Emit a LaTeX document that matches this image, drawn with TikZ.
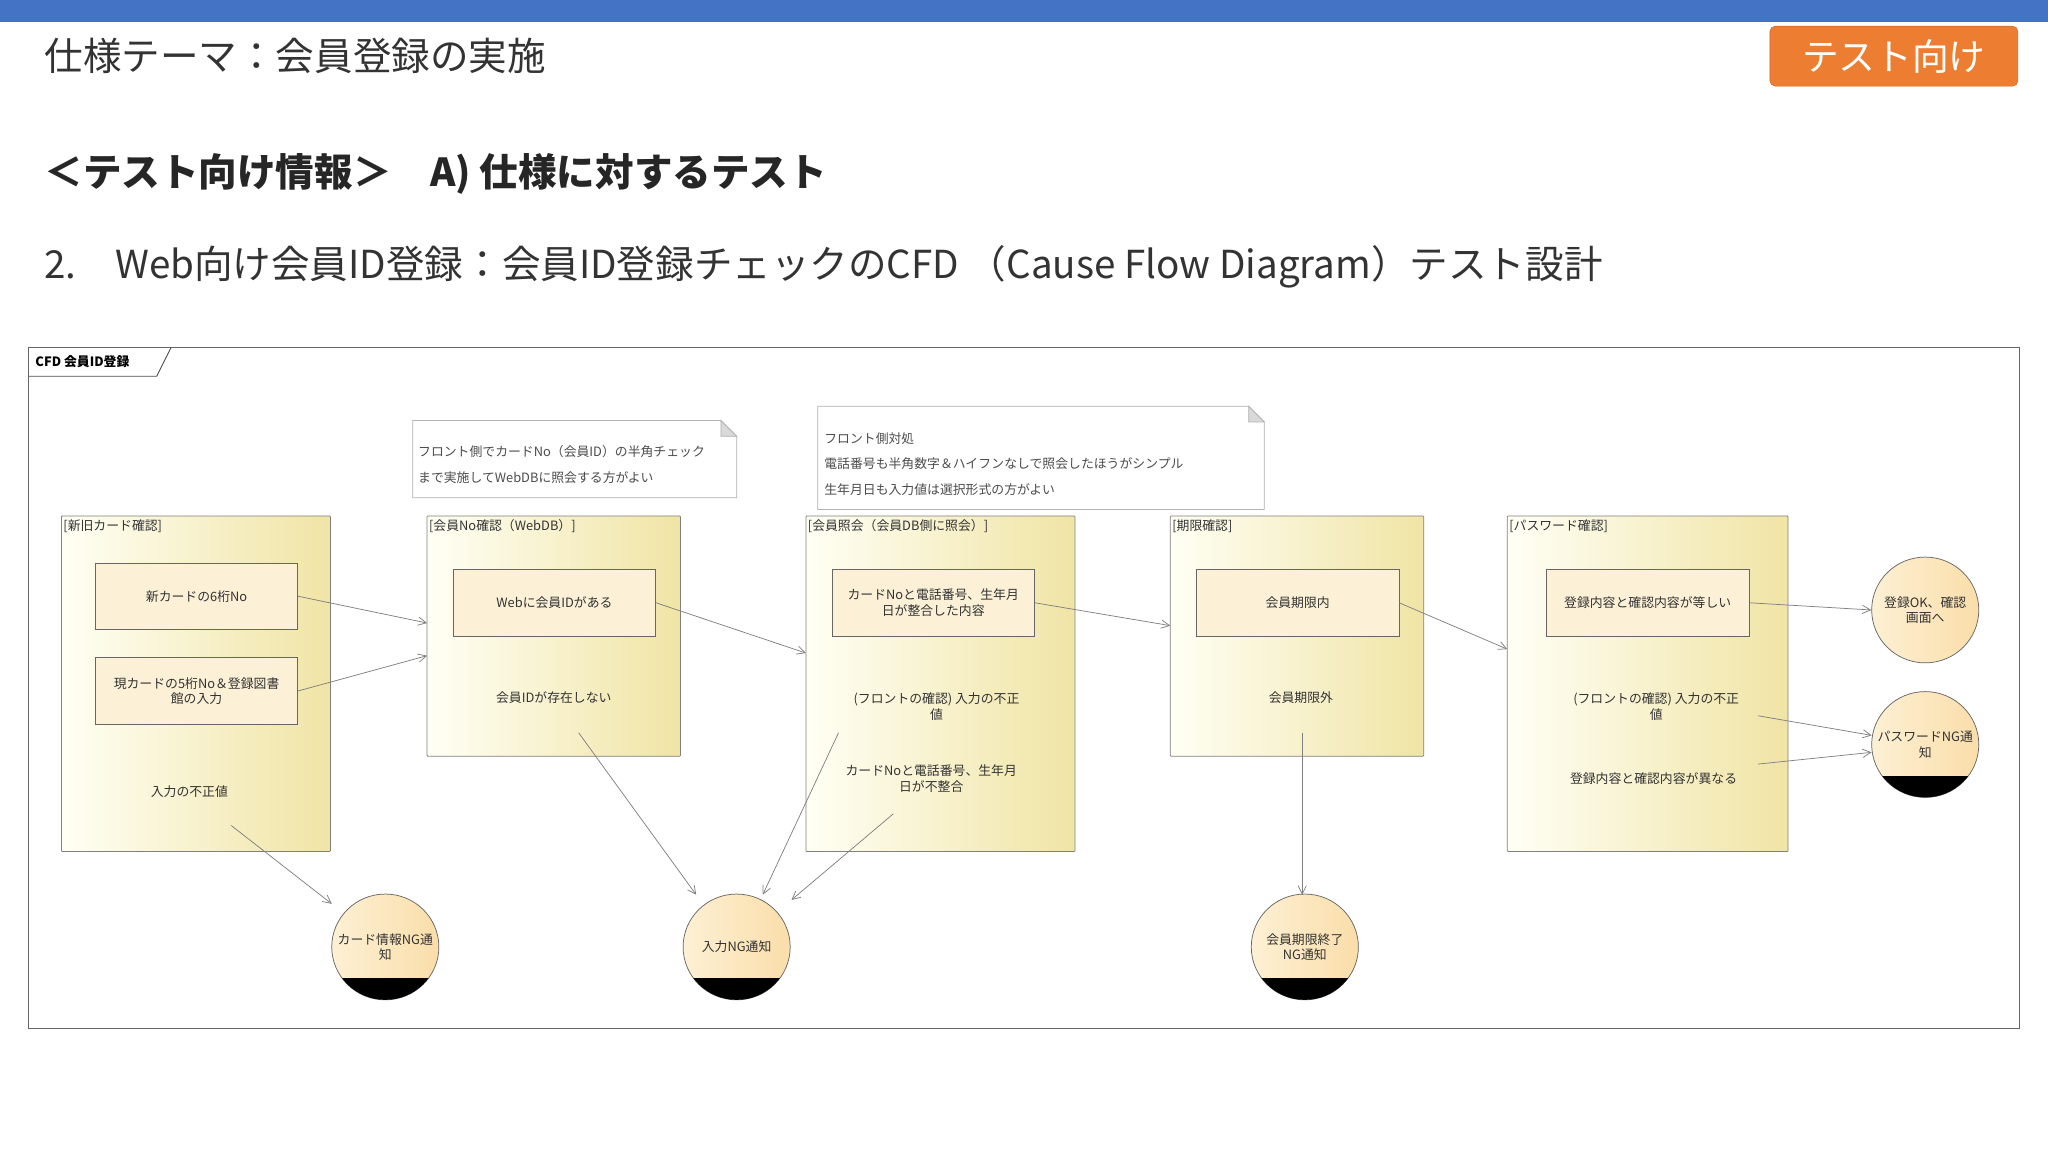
\documentclass[tikz,border=0pt]{standalone}
\usepackage{fontspec}
\setmainfont{Noto Sans CJK JP}
\usetikzlibrary{arrows.meta,shapes.geometric}
\definecolor{topblue}{HTML}{4472C4}
\definecolor{btnorange}{HTML}{ED7D31}
\definecolor{lnc}{HTML}{808080}
\tikzset{
  grp/.style={draw=lnc, line width=0.8pt, left color=yellow!4!white, right color={rgb,255:red,240;green,228;blue,165}, rounded corners=1pt},
  inbox/.style={draw=black!60, line width=0.8pt, fill={rgb,255:red,252;green,240;blue,215}, minimum width=155*0.05cm, minimum height=51*0.05cm, align=center, font=\fontsize{14}{17}\selectfont, text=black!80},
  ptxt/.style={align=center, font=\fontsize{14}{17}\selectfont, text=black!80},
  glbl/.style={anchor=north west, font=\fontsize{14}{17}\selectfont, text=black!80, inner sep=2pt},
  term/.style={ellipse, draw=black!60, line width=0.8pt, left color={rgb,255:red,253;green,240;blue,212}, right color={rgb,255:red,250;green,222;blue,170}, minimum width=82*0.05cm, minimum height=81*0.05cm, inner sep=0pt},
  tlbl/.style={align=center, font=\fontsize{14}{17}\selectfont, text=black!80, inner sep=0pt},
  arr/.style={-{Straight Barb[length=9pt,width=9pt]}, draw=lnc, line width=0.8pt},
  notebox/.style={draw=black!30, fill=white, line width=0.8pt},
  ntxt/.style={anchor=west, font=\fontsize{14}{17}\selectfont, text=black!70, inner sep=0pt}
}
\begin{document}
\begin{tikzpicture}[x=0.05cm,y=-0.05cm]
\useasboundingbox (0,0) rectangle (1568,882);
\fill[white] (0,0) rectangle (1568,882);
% top
\fill[topblue] (0,0) rectangle (1568,17);
\node[anchor=west, font=\fontsize{42}{46}\selectfont, text=black!80, inner sep=0pt] (title) at (34,43) {仕様テーマ：会員登録の実施};
\node[draw=btnorange!80!black, fill=btnorange, rounded corners=6pt, minimum width=190*0.05cm, minimum height=46*0.05cm, text=white, font=\fontsize{40}{44}\selectfont, inner sep=0pt] (btn) at (1450,43) {テスト向け};
\node[anchor=west, font=\bfseries\fontsize{42}{46}\selectfont, text=black!85, inner sep=0pt] (h1) at (34,133) {＜テスト向け情報＞　A) 仕様に対するテスト};
\node[anchor=west, font=\fontsize{42}{46}\selectfont, text=black!80, inner sep=0pt] (h2) at (34,204) {2.　Web向け会員ID登録：会員ID登録チェックのCFD （Cause Flow Diagram）テスト設計};
% frame
\draw[black!60, line width=0.9pt] (22,266) rectangle (1546,787);
\draw[black!70, line width=0.9pt] (22,288) -- (120,288) -- (131,266);
\node[anchor=west, font=\bfseries\fontsize{14}{17}\selectfont, inner sep=0pt] (flbl) at (27,277) {CFD 会員ID登録};
% notes
\draw[notebox] (316,322) -- (552,322) -- (564,334) -- (564,381) -- (316,381) -- cycle;
\draw[black!30, fill=black!15, line width=0.8pt] (552,322) -- (552,334) -- (564,334) -- cycle;
\node[ntxt] (n1a) at (320,346) {フロント側でカードNo（会員ID）の半角チェック};
\node[ntxt] (n1b) at (320,366) {まで実施してWebDBに照会する方がよい};
\draw[notebox] (626,311) -- (956,311) -- (968,323) -- (968,390) -- (626,390) -- cycle;
\draw[black!30, fill=black!15, line width=0.8pt] (956,311) -- (956,323) -- (968,323) -- cycle;
\node[ntxt] (n2a) at (631,336) {フロント側対処};
\node[ntxt] (n2b) at (631,355) {電話番号も半角数字＆ハイフンなしで照会したほうがシンプル};
\node[ntxt] (n2c) at (631,375) {生年月日も入力値は選択形式の方がよい};
% groups
\draw[grp] (47,395) rectangle (253,652);
\draw[grp] (327,395) rectangle (521,579);
\draw[grp] (617,395) rectangle (823,652);
\draw[grp] (896,395) rectangle (1090,579);
\draw[grp] (1154,395) rectangle (1369,652);
\node[glbl] (g1) at (47,396) {[新旧カード確認]};
\node[glbl] (g2) at (327,396) {[会員No確認（WebDB）]};
\node[glbl] (g3) at (617,396) {[会員照会（会員DB側に照会）]};
\node[glbl] (g4) at (896,396) {[期限確認]};
\node[glbl] (g5) at (1154,396) {[パスワード確認]};
\coordinate (g2w1) at (327,477); \coordinate (g2w2) at (327,502);
\coordinate (g3w) at (617,500); \coordinate (g4w) at (896,479); \coordinate (g5w) at (1154,497);
% inner boxes
\node[inbox] (b1) at (150.5,456.5) {新カードの6桁No};
\node[inbox] (b2) at (150.5,529) {現カードの5桁No＆登録図書\\館の入力};
\node[inbox] (b3) at (424.5,461.5) {Webに会員IDがある};
\node[inbox] (b4) at (714.5,461.5) {カードNoと電話番号、生年月\\日が整合した内容};
\node[inbox] (b5) at (993.5,461.5) {会員期限内};
\node[inbox] (b6) at (1261.5,461.5) {登録内容と確認内容が等しい};
% plain texts
\node[ptxt] (t1) at (145,606) {入力の不正値};
\node[ptxt] (t2) at (424,534) {会員IDが存在しない};
\node[ptxt] (t3) at (717,541) {(フロントの確認) 入力の不正\\値};
\node[ptxt] (t4) at (713,596) {カードNoと電話番号、生年月\\日が不整合};
\node[ptxt] (t5) at (996,534) {会員期限外};
\node[ptxt] (t6) at (1268,541) {(フロントの確認) 入力の不正\\値};
\node[ptxt] (t7) at (1266,596) {登録内容と確認内容が異なる};
% terminals
\foreach \n/\x/\y/\t/\blk in {e1/295/725/{カード情報NG通\\知}/1, e2/564/725/{入力NG通知}/1, e3/999/725/{会員期限終了\\NG通知}/1, e4/1474/467/{登録OK、確認\\画面へ}/0, e5/1474/570/{パスワードNG通\\知}/1}{
  \node[term] (\n) at (\x,\y) {};
  \ifnum\blk=1
    \begin{scope}
      \clip (\n.center) ellipse [x radius=41*0.05cm, y radius=40.5*0.05cm];
      \fill[black] (\x-45,\y+24) rectangle (\x+45,\y+45);
    \end{scope}
  \fi
  \node[tlbl] (\n t) at (\x,\y) {\t};
}
% free ends
\coordinate (s1) at (177,632);
\coordinate (s2) at (443,561);
\coordinate (s3) at (642,561);
\coordinate (s4) at (684,623);
\coordinate (s5) at (997,561);
\coordinate (s6) at (1346,548);
\coordinate (s7) at (1346,585);
\coordinate (e1t) at (254,692);
\coordinate (e2a) at (533,685);
\coordinate (e2b) at (584,685);
\coordinate (e2c) at (606,689);
\coordinate (e3t) at (997,685);
\coordinate (e5a) at (1433,563);
\coordinate (e5b) at (1433,576);
% arrows
\draw[arr] (b1.east) -- (g2w1);
\draw[arr] (b2.east) -- (g2w2);
\draw[arr] (b3.east) -- (g3w);
\draw[arr] (b4.east) -- (g4w);
\draw[arr] (b5.east) -- (g5w);
\draw[arr] (b6.east) -- (e4.west);
\draw[arr] (s6) -- (e5a);
\draw[arr] (s7) -- (e5b);
\draw[arr] (s1) -- (e1t);
\draw[arr] (s2) -- (e2a);
\draw[arr] (s3) -- (e2b);
\draw[arr] (s4) -- (e2c);
\draw[arr] (s5) -- (e3t);
\end{tikzpicture}
\end{document}
